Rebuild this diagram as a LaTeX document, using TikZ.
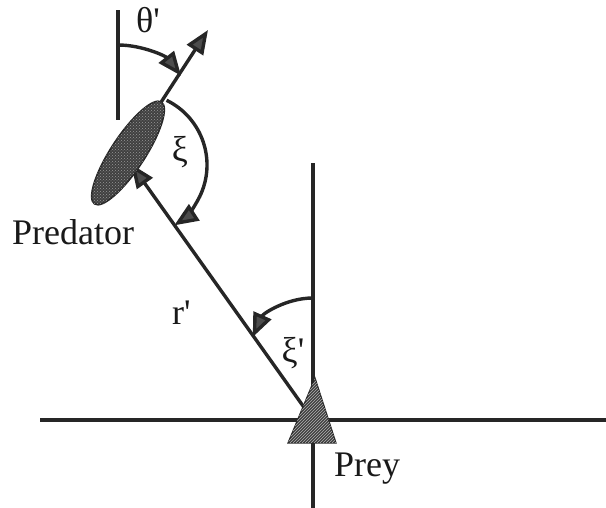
\documentclass[tikz,border=0pt]{standalone}
\usepackage{fontspec}
\newfontfamily\labfont{Liberation Serif}
\usetikzlibrary{arrows.meta,patterns,shapes.geometric}
\begin{document}
\begin{tikzpicture}[x=1pt,y=1pt,
  ln/.style={line width=3.4pt, draw=black!85},
  tip/.style={-{Triangle[length=24pt,width=19pt,fill=black!70]}},
  lab/.style={font=\labfont\fontsize{36}{40}\selectfont, inner sep=0pt, text=black!90}]
\useasboundingbox (0,0) rectangle (606,508);
% key points
\coordinate (P) at (128,355);   % predator centre
\coordinate (Q) at (313,88);    % prey centre
\coordinate (H) at (208,478);   % heading tip
\coordinate (R) at (131,344);   % r' arrow tip at predator
\coordinate (V1) at (118,388);
\coordinate (V2) at (118,498);
\coordinate (XL) at (40,88);
\coordinate (XR) at (606,88);
\coordinate (YB) at (313,0);
\coordinate (YT) at (313,345);
% axes and lines
\draw[ln] (XL) -- (XR);
\draw[ln] (YB) -- (YT);
\draw[ln] (V1) -- (V2);
\draw[ln,tip] (P) -- (H);
\draw[ln,tip] (Q) -- (R);
% angle arcs
\draw[ln,tip] (118,463) arc[start angle=90,end angle=38,radius=80];
\draw[ln,tip] (135,343) ++(64:72) arc[start angle=64,end angle=-57,radius=72];
\draw[ln,tip] (313,210) arc[start angle=90,end angle=156,radius=66];
% predator
\node[ellipse, draw=black!85, line width=1.5pt, fill=black!75,
      postaction={pattern=crosshatch dots, pattern color=white!60!black},
      minimum width=122pt, minimum height=34pt, rotate=56.7, inner sep=0pt] (pred) at (P) {};
% prey
\path[draw=black!85, line width=1.2pt, fill=black!75,
      postaction={pattern=north east lines, pattern color=white!70!black}]
  (315,130) -- (336,65) -- (288,65) -- cycle;
% labels
\node[lab, anchor=base west] (thl) at (136,475) {θ'};
\node[lab, anchor=center] (xil) at (180,356) {ξ};
\node[lab, anchor=base west] (rl) at (172,183) {r'};
\node[lab, anchor=center] (xipl) at (293,155) {ξ'};
\node[lab, anchor=base west] (predl) at (12,263) {Predator};
\node[lab, anchor=base west] (preyl) at (334,31) {Prey};
\end{tikzpicture}
\end{document}
